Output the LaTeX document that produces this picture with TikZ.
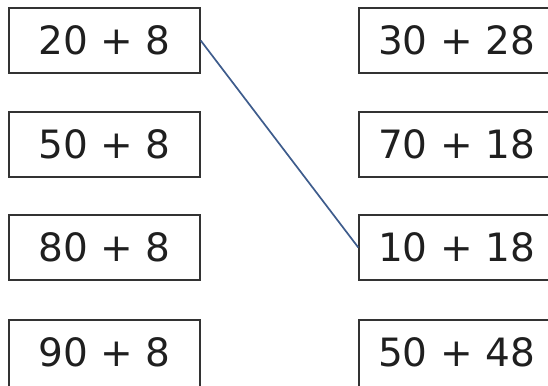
\documentclass[tikz,border=0pt]{standalone}
\usepackage{fontspec}
\setmainfont{DejaVu Sans}
\begin{document}
\begin{tikzpicture}[x=1pt,y=1pt,
  sumbox/.style={draw=black!80, line width=1.4pt, minimum width=191pt, minimum height=65pt,
    inner sep=0pt, text=black!88, font=\fontsize{39}{44}\selectfont},
  rightbox/.style={sumbox, minimum width=206pt},
  lowbox/.style={minimum height=85pt, text height=28pt, text depth=20pt},
  link/.style={draw={rgb,255:red,62;green,92;blue,140}, line width=1.7pt}]
\useasboundingbox (0,0) rectangle (548,385);
\node[sumbox] (a1) at (104.5,344.5) {20 + 8};
\node[sumbox] (a2) at (104.5,240.5) {50 + 8};
\node[sumbox] (a3) at (104.5,137.5) {80 + 8};
\node[sumbox,lowbox] (a4) at (104.5,22.5) {90 + 8};
\node[rightbox] (b1) at (462,344.5) {30 + 28\kern11pt};
\node[rightbox] (b2) at (462,240.5) {70 + 18\kern11pt};
\node[rightbox] (b3) at (462,137.5) {10 + 18\kern11pt};
\node[rightbox,lowbox] (b4) at (462,22.5) {50 + 48\kern11pt};
\draw[link] (a1.east) -- (b3.west);
\end{tikzpicture}
\end{document}
